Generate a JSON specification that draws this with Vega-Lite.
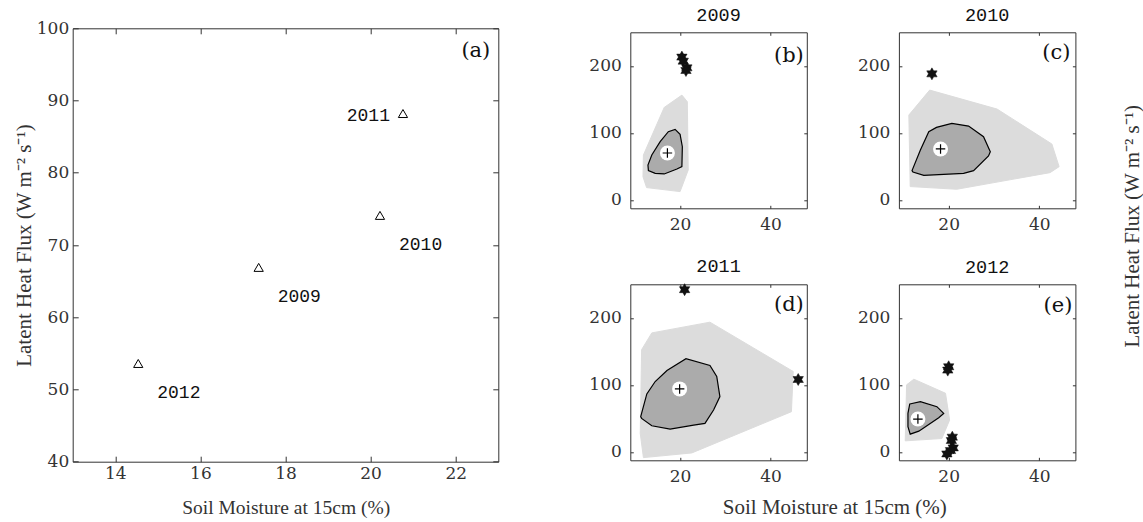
{
  "$schema": "https://vega.github.io/schema/vega-lite/v6.json",
  "autosize": {"type": "none"},
  "padding": {"left": 72.7, "top": 32.3, "right": 1070.3, "bottom": 489.7},
  "background": "white",
  "config": {
    "view": {"stroke": "#333333", "strokeWidth": 1},
    "axis": {
      "grid": false, "domain": false, "labelFlush": false,
      "domainColor": "#333333", "domainWidth": 1,
      "tickColor": "#333333", "labelColor": "#333333",
      "labelFont": "DejaVu Serif", "labelFontSize": 17,
      "titleFont": "Liberation Serif", "titleFontWeight": "normal",
      "titleColor": "#333333", "titleFontSize": 19.5
    },
    "title": {"font": "Liberation Mono", "fontSize": 18.5, "fontWeight": "normal", "color": "#111111", "baseline": "alphabetic", "offset": 7.5}
  },
  "datasets": {
    "years": [
      {"year": "2009", "sm": 17.37, "le": 66.9},
      {"year": "2010", "sm": 20.22, "le": 74.1},
      {"year": "2011", "sm": 20.76, "le": 88.2},
      {"year": "2012", "sm": 14.54, "le": 53.6}
    ],
    "hull": [
      {"year": 2009, "part": "fence", "i": 0, "x": 16.5, "y": 138},
      {"year": 2009, "part": "fence", "i": 1, "x": 20.4, "y": 156.3},
      {"year": 2009, "part": "fence", "i": 2, "x": 21.6, "y": 146.4},
      {"year": 2009, "part": "fence", "i": 3, "x": 21.8, "y": 44.7},
      {"year": 2009, "part": "fence", "i": 4, "x": 20, "y": 12.4},
      {"year": 2009, "part": "fence", "i": 5, "x": 12.6, "y": 18.4},
      {"year": 2009, "part": "fence", "i": 6, "x": 11.8, "y": 34.7},
      {"year": 2009, "part": "fence", "i": 7, "x": 11.9, "y": 67},
      {"year": 2009, "part": "bag", "i": 0, "x": 18.9, "y": 105.2},
      {"year": 2009, "part": "bag", "i": 1, "x": 20, "y": 97.8},
      {"year": 2009, "part": "bag", "i": 2, "x": 20.5, "y": 79.4},
      {"year": 2009, "part": "bag", "i": 3, "x": 20.4, "y": 49.6},
      {"year": 2009, "part": "bag", "i": 4, "x": 19.3, "y": 46.2},
      {"year": 2009, "part": "bag", "i": 5, "x": 16.5, "y": 38.7},
      {"year": 2009, "part": "bag", "i": 6, "x": 14.5, "y": 39.7},
      {"year": 2009, "part": "bag", "i": 7, "x": 13, "y": 43.7},
      {"year": 2009, "part": "bag", "i": 8, "x": 12.9, "y": 52.1},
      {"year": 2009, "part": "bag", "i": 9, "x": 13.75, "y": 67},
      {"year": 2009, "part": "bag", "i": 10, "x": 15.6, "y": 86.8},
      {"year": 2009, "part": "bag", "i": 11, "x": 17.4, "y": 101.7},
      {"year": 2010, "part": "fence", "i": 0, "x": 11.2, "y": 126.6},
      {"year": 2010, "part": "fence", "i": 1, "x": 15.8, "y": 163.8},
      {"year": 2010, "part": "fence", "i": 2, "x": 30.7, "y": 135.5},
      {"year": 2010, "part": "fence", "i": 3, "x": 42.8, "y": 83.4},
      {"year": 2010, "part": "fence", "i": 4, "x": 44.4, "y": 49.6},
      {"year": 2010, "part": "fence", "i": 5, "x": 42.4, "y": 40.7},
      {"year": 2010, "part": "fence", "i": 6, "x": 21.8, "y": 15.9},
      {"year": 2010, "part": "fence", "i": 7, "x": 11.5, "y": 19.9},
      {"year": 2010, "part": "bag", "i": 0, "x": 11.9, "y": 43.7},
      {"year": 2010, "part": "bag", "i": 1, "x": 13.75, "y": 74.4},
      {"year": 2010, "part": "bag", "i": 2, "x": 15.6, "y": 101.7},
      {"year": 2010, "part": "bag", "i": 3, "x": 17.3, "y": 108.2},
      {"year": 2010, "part": "bag", "i": 4, "x": 20.7, "y": 114.1},
      {"year": 2010, "part": "bag", "i": 5, "x": 24.4, "y": 110.2},
      {"year": 2010, "part": "bag", "i": 6, "x": 27.7, "y": 94.3},
      {"year": 2010, "part": "bag", "i": 7, "x": 29.2, "y": 72},
      {"year": 2010, "part": "bag", "i": 8, "x": 28.8, "y": 65.5},
      {"year": 2010, "part": "bag", "i": 9, "x": 25.5, "y": 43.7},
      {"year": 2010, "part": "bag", "i": 10, "x": 23.3, "y": 39.7},
      {"year": 2010, "part": "bag", "i": 11, "x": 14.5, "y": 36.7},
      {"year": 2010, "part": "bag", "i": 12, "x": 12.1, "y": 41.7},
      {"year": 2011, "part": "fence", "i": 0, "x": 13.75, "y": 177.5},
      {"year": 2011, "part": "fence", "i": 1, "x": 26.6, "y": 193.5},
      {"year": 2011, "part": "fence", "i": 2, "x": 45, "y": 120},
      {"year": 2011, "part": "fence", "i": 3, "x": 44.6, "y": 60},
      {"year": 2011, "part": "fence", "i": 4, "x": 22.6, "y": -1.5},
      {"year": 2011, "part": "fence", "i": 5, "x": 11.9, "y": -8.5},
      {"year": 2011, "part": "fence", "i": 6, "x": 11.2, "y": 27.5},
      {"year": 2011, "part": "fence", "i": 7, "x": 11.5, "y": 152.5},
      {"year": 2011, "part": "bag", "i": 0, "x": 11.3, "y": 52.5},
      {"year": 2011, "part": "bag", "i": 1, "x": 12.65, "y": 86.5},
      {"year": 2011, "part": "bag", "i": 2, "x": 14.5, "y": 105},
      {"year": 2011, "part": "bag", "i": 3, "x": 17.1, "y": 121.5},
      {"year": 2011, "part": "bag", "i": 4, "x": 21.3, "y": 139},
      {"year": 2011, "part": "bag", "i": 5, "x": 26.6, "y": 129},
      {"year": 2011, "part": "bag", "i": 6, "x": 28.1, "y": 112.5},
      {"year": 2011, "part": "bag", "i": 7, "x": 28.8, "y": 82.5},
      {"year": 2011, "part": "bag", "i": 8, "x": 27.4, "y": 62.5},
      {"year": 2011, "part": "bag", "i": 9, "x": 25.5, "y": 42.5},
      {"year": 2011, "part": "bag", "i": 10, "x": 23, "y": 40},
      {"year": 2011, "part": "bag", "i": 11, "x": 17.8, "y": 34},
      {"year": 2011, "part": "bag", "i": 12, "x": 13.75, "y": 39},
      {"year": 2011, "part": "bag", "i": 13, "x": 11.5, "y": 50},
      {"year": 2012, "part": "fence", "i": 0, "x": 10.7, "y": 100},
      {"year": 2012, "part": "fence", "i": 1, "x": 12.3, "y": 108.5},
      {"year": 2012, "part": "fence", "i": 2, "x": 19.3, "y": 87.5},
      {"year": 2012, "part": "fence", "i": 3, "x": 20.2, "y": 47.5},
      {"year": 2012, "part": "fence", "i": 4, "x": 18.5, "y": 20},
      {"year": 2012, "part": "fence", "i": 5, "x": 10.4, "y": 16.5},
      {"year": 2012, "part": "bag", "i": 0, "x": 11.4, "y": 71.5},
      {"year": 2012, "part": "bag", "i": 1, "x": 13.75, "y": 75},
      {"year": 2012, "part": "bag", "i": 2, "x": 17.4, "y": 67.5},
      {"year": 2012, "part": "bag", "i": 3, "x": 18.9, "y": 57.5},
      {"year": 2012, "part": "bag", "i": 4, "x": 17.8, "y": 51},
      {"year": 2012, "part": "bag", "i": 5, "x": 13.4, "y": 31},
      {"year": 2012, "part": "bag", "i": 6, "x": 11.5, "y": 26.5},
      {"year": 2012, "part": "bag", "i": 7, "x": 11, "y": 37.5},
      {"year": 2012, "part": "bag", "i": 8, "x": 11, "y": 57.5}
    ],
    "med": [
      {"year": 2009, "x": 17.2, "y": 70},
      {"year": 2010, "x": 18.2, "y": 76},
      {"year": 2011, "x": 19.9, "y": 94},
      {"year": 2012, "x": 13.2, "y": 49}
    ],
    "out": [
      {"year": 2009, "x": 20.4, "y": 213},
      {"year": 2009, "x": 20.7, "y": 207},
      {"year": 2009, "x": 21.5, "y": 197},
      {"year": 2009, "x": 21.3, "y": 193},
      {"year": 2010, "x": 16.3, "y": 188},
      {"year": 2011, "x": 21, "y": 242},
      {"year": 2011, "x": 46.1, "y": 108},
      {"year": 2012, "x": 20, "y": 127},
      {"year": 2012, "x": 19.8, "y": 122},
      {"year": 2012, "x": 20.8, "y": 22},
      {"year": 2012, "x": 20.6, "y": 17},
      {"year": 2012, "x": 21, "y": 6},
      {"year": 2012, "x": 20.4, "y": 2},
      {"year": 2012, "x": 19.6, "y": -3}
    ]
  },
  "bounds": "flush",
  "align": "each",
  "columns": 3,
  "spacing": {"row": 76, "column": 91.6},
  "concat": [
    {
      "width": 425.6, "height": 176,
      "view": {"stroke": null},
      "resolve": {"axis": {"x": "independent", "y": "independent"}},
      "layer": [
        {
          "data": {"name": "years"},
          "mark": {"type": "point", "shape": "triangle-up", "size": 85, "filled": false, "stroke": "black", "strokeWidth": 1, "opacity": 1},
          "encoding": {
            "x": {"field": "sm", "type": "quantitative", "scale": {"domain": [13, 23], "nice": false, "zero": false},
                  "axis": {"values": [14, 16, 18, 20, 22], "domain": true, "offset": 253.4, "tickSize": -5.5, "labelPadding": 9.5,
                           "title": "Soil Moisture at 15cm (%)", "titleX": 213, "titleY": 51.6, "titleBaseline": "alphabetic"}},
            "y": {"field": "le", "type": "quantitative", "scale": {"domain": [40, 100], "range": [429.4, -4], "nice": false, "zero": false},
                  "axis": {"values": [40, 50, 60, 70, 80, 90, 100], "domain": true, "tickSize": -5.5, "labelPadding": 9.5,
                           "title": "Latent Heat Flux (W m⁻² s⁻¹)", "titleX": -42, "titleY": 212.7, "titleBaseline": "alphabetic", "titleFontSize": 21}}
          }
        },
        {
          "data": {"name": "years"},
          "transform": [{"filter": "datum.year != '2011'"}],
          "mark": {"type": "text", "align": "left", "baseline": "middle", "dx": 19, "dy": 30, "font": "Liberation Mono", "fontSize": 18, "color": "#111111"},
          "encoding": {
            "x": {"field": "sm", "type": "quantitative", "axis": {"orient": "top", "offset": 4, "domain": true, "values": [14, 16, 18, 20, 22], "tickSize": -5.5, "labels": false, "title": null}},
            "y": {"field": "le", "type": "quantitative", "axis": {"orient": "right", "domain": true, "values": [40, 50, 60, 70, 80, 90, 100], "tickSize": -5.5, "labels": false, "title": null}},
            "text": {"field": "year", "type": "nominal"}
          }
        },
        {
          "data": {"name": "years"},
          "transform": [{"filter": "datum.year == '2011'"}],
          "mark": {"type": "text", "align": "right", "baseline": "middle", "dx": -13, "dy": 2, "font": "Liberation Mono", "fontSize": 18, "color": "#111111"},
          "encoding": {
            "x": {"field": "sm", "type": "quantitative", "axis": null},
            "y": {"field": "le", "type": "quantitative", "axis": null},
            "text": {"field": "year", "type": "nominal"}
          }
        },
        {
          "data": {"values": [{"tag": "(a)"}]},
          "mark": {"type": "text", "align": "right", "baseline": "alphabetic", "dx": -8, "dy": 29, "font": "DejaVu Serif", "fontSize": 21, "color": "#111111"},
          "encoding": {
            "x": {"datum": 23, "type": "quantitative", "axis": null},
            "y": {"datum": 100, "type": "quantitative", "axis": null},
            "text": {"field": "tag", "type": "nominal"}
          }
        }
      ]
    },
    {
      "width": 176.5, "height": 176,
      "title": {"text": "2009"},
      "resolve": {"axis": {"x": "independent", "y": "independent"}},
      "layer": [
        {
          "data": {"name": "hull"},
          "transform": [{"filter": "datum.year == 2009 && datum.part == 'fence'"}],
          "mark": {"type": "line", "interpolate": "linear-closed", "fill": "#dcdcdc", "stroke": "#dcdcdc", "strokeWidth": 1},
          "encoding": {
            "x": {"field": "x", "type": "quantitative", "scale": {"domain": [9, 48], "nice": false, "zero": false},
                  "axis": {"values": [20, 40], "tickSize": -3, "labelPadding": 11.3, "title": null}},
            "y": {"field": "y", "type": "quantitative", "scale": {"domain": [-12.5, 250], "nice": false, "zero": false},
                  "axis": {"values": [0, 100, 200], "tickSize": -3, "labelPadding": 12, "title": null}},
            "order": {"field": "i", "type": "quantitative"}
          }
        },
        {
          "data": {"name": "hull"},
          "transform": [{"filter": "datum.year == 2009 && datum.part == 'bag'"}],
          "mark": {"type": "line", "interpolate": "linear-closed", "fill": "#ababab", "stroke": "black", "strokeWidth": 1.2},
          "encoding": {
            "x": {"field": "x", "type": "quantitative", "axis": null},
            "y": {"field": "y", "type": "quantitative", "axis": null},
            "order": {"field": "i", "type": "quantitative"}
          }
        },
        {
          "data": {"name": "med"},
          "transform": [{"filter": "datum.year == 2009"}],
          "mark": {"type": "point", "shape": "circle", "size": 225, "filled": true, "fill": "white", "stroke": null, "opacity": 1},
          "encoding": {
            "x": {"field": "x", "type": "quantitative", "axis": null},
            "y": {"field": "y", "type": "quantitative", "axis": null}
          }
        },
        {
          "data": {"name": "med"},
          "transform": [{"filter": "datum.year == 2009"}],
          "mark": {"type": "point", "shape": "M-1,0L1,0M0,-1L0,1", "size": 90, "filled": false, "stroke": "black", "strokeWidth": 1.2, "opacity": 1},
          "encoding": {
            "x": {"field": "x", "type": "quantitative", "axis": null},
            "y": {"field": "y", "type": "quantitative", "axis": null}
          }
        },
        {
          "data": {"name": "out"},
          "transform": [{"filter": "datum.year == 2009"}],
          "mark": {"type": "point", "shape": "M0,-1L0.2887,-0.5L0.866,-0.5L0.5774,0L0.866,0.5L0.2887,0.5L0,1L-0.2887,0.5L-0.866,0.5L-0.5774,0L-0.866,-0.5L-0.2887,-0.5Z", "size": 144, "filled": true, "fill": "#111111", "stroke": "#111111", "strokeWidth": 0.5, "opacity": 1},
          "encoding": {
            "x": {"field": "x", "type": "quantitative", "axis": {"orient": "top", "values": [20, 40], "tickSize": -3, "labels": false, "title": null}},
            "y": {"field": "y", "type": "quantitative", "axis": {"orient": "right", "values": [0, 100, 200], "tickSize": -3, "labels": false, "title": null}}
          }
        },
        {
          "data": {"values": [{"tag": "(b)"}]},
          "mark": {"type": "text", "align": "right", "baseline": "alphabetic", "dx": -3, "dy": 30, "font": "DejaVu Serif", "fontSize": 21, "color": "#111111"},
          "encoding": {
            "x": {"datum": 48, "type": "quantitative", "axis": null},
            "y": {"datum": 250, "type": "quantitative", "axis": null},
            "text": {"field": "tag", "type": "nominal"}
          }
        }
      ]
    },
    {
      "width": 176.5, "height": 176,
      "title": {"text": "2010"},
      "resolve": {"axis": {"x": "independent", "y": "independent"}},
      "layer": [
        {
          "data": {"name": "hull"},
          "transform": [{"filter": "datum.year == 2010 && datum.part == 'fence'"}],
          "mark": {"type": "line", "interpolate": "linear-closed", "fill": "#dcdcdc", "stroke": "#dcdcdc", "strokeWidth": 1},
          "encoding": {
            "x": {"field": "x", "type": "quantitative", "scale": {"domain": [9, 48], "nice": false, "zero": false},
                  "axis": {"values": [20, 40], "tickSize": -3, "labelPadding": 11.3, "title": null}},
            "y": {"field": "y", "type": "quantitative", "scale": {"domain": [-12.5, 250], "nice": false, "zero": false},
                  "axis": {"values": [0, 100, 200], "tickSize": -3, "labelPadding": 12,
                           "title": "Latent Heat Flux (W m⁻² s⁻¹)", "titleX": 240, "titleY": 193.5, "titleBaseline": "alphabetic", "titleFontSize": 21}},
            "order": {"field": "i", "type": "quantitative"}
          }
        },
        {
          "data": {"name": "hull"},
          "transform": [{"filter": "datum.year == 2010 && datum.part == 'bag'"}],
          "mark": {"type": "line", "interpolate": "linear-closed", "fill": "#ababab", "stroke": "black", "strokeWidth": 1.2},
          "encoding": {
            "x": {"field": "x", "type": "quantitative", "axis": null},
            "y": {"field": "y", "type": "quantitative", "axis": null},
            "order": {"field": "i", "type": "quantitative"}
          }
        },
        {
          "data": {"name": "med"},
          "transform": [{"filter": "datum.year == 2010"}],
          "mark": {"type": "point", "shape": "circle", "size": 225, "filled": true, "fill": "white", "stroke": null, "opacity": 1},
          "encoding": {
            "x": {"field": "x", "type": "quantitative", "axis": null},
            "y": {"field": "y", "type": "quantitative", "axis": null}
          }
        },
        {
          "data": {"name": "med"},
          "transform": [{"filter": "datum.year == 2010"}],
          "mark": {"type": "point", "shape": "M-1,0L1,0M0,-1L0,1", "size": 90, "filled": false, "stroke": "black", "strokeWidth": 1.2, "opacity": 1},
          "encoding": {
            "x": {"field": "x", "type": "quantitative", "axis": null},
            "y": {"field": "y", "type": "quantitative", "axis": null}
          }
        },
        {
          "data": {"name": "out"},
          "transform": [{"filter": "datum.year == 2010"}],
          "mark": {"type": "point", "shape": "M0,-1L0.2887,-0.5L0.866,-0.5L0.5774,0L0.866,0.5L0.2887,0.5L0,1L-0.2887,0.5L-0.866,0.5L-0.5774,0L-0.866,-0.5L-0.2887,-0.5Z", "size": 144, "filled": true, "fill": "#111111", "stroke": "#111111", "strokeWidth": 0.5, "opacity": 1},
          "encoding": {
            "x": {"field": "x", "type": "quantitative", "axis": {"orient": "top", "values": [20, 40], "tickSize": -3, "labels": false, "title": null}},
            "y": {"field": "y", "type": "quantitative", "axis": {"orient": "right", "values": [0, 100, 200], "tickSize": -3, "labels": false, "title": null}}
          }
        },
        {
          "data": {"values": [{"tag": "(c)"}]},
          "mark": {"type": "text", "align": "right", "baseline": "alphabetic", "dx": -5, "dy": 27, "font": "DejaVu Serif", "fontSize": 21, "color": "#111111"},
          "encoding": {
            "x": {"datum": 48, "type": "quantitative", "axis": null},
            "y": {"datum": 250, "type": "quantitative", "axis": null},
            "text": {"field": "tag", "type": "nominal"}
          }
        }
      ]
    },
    {
      "width": 465.7, "height": 176,
      "view": {"stroke": null},
      "data": {"values": []},
      "mark": "point"
    },
    {
      "width": 176.5, "height": 176,
      "title": {"text": "2011"},
      "resolve": {"axis": {"x": "independent", "y": "independent"}},
      "layer": [
        {
          "data": {"name": "hull"},
          "transform": [{"filter": "datum.year == 2011 && datum.part == 'fence'"}],
          "mark": {"type": "line", "interpolate": "linear-closed", "fill": "#dcdcdc", "stroke": "#dcdcdc", "strokeWidth": 1},
          "encoding": {
            "x": {"field": "x", "type": "quantitative", "scale": {"domain": [9, 48], "nice": false, "zero": false},
                  "axis": {"values": [20, 40], "tickSize": -3, "labelPadding": 11.3,
                           "title": "Soil Moisture at 15cm (%)", "titleX": 204, "titleY": 53.3, "titleBaseline": "alphabetic", "titleFontSize": 21}},
            "y": {"field": "y", "type": "quantitative", "scale": {"domain": [-12.5, 250], "nice": false, "zero": false},
                  "axis": {"values": [0, 100, 200], "tickSize": -3, "labelPadding": 12, "title": null}},
            "order": {"field": "i", "type": "quantitative"}
          }
        },
        {
          "data": {"name": "hull"},
          "transform": [{"filter": "datum.year == 2011 && datum.part == 'bag'"}],
          "mark": {"type": "line", "interpolate": "linear-closed", "fill": "#ababab", "stroke": "black", "strokeWidth": 1.2},
          "encoding": {
            "x": {"field": "x", "type": "quantitative", "axis": null},
            "y": {"field": "y", "type": "quantitative", "axis": null},
            "order": {"field": "i", "type": "quantitative"}
          }
        },
        {
          "data": {"name": "med"},
          "transform": [{"filter": "datum.year == 2011"}],
          "mark": {"type": "point", "shape": "circle", "size": 225, "filled": true, "fill": "white", "stroke": null, "opacity": 1},
          "encoding": {
            "x": {"field": "x", "type": "quantitative", "axis": null},
            "y": {"field": "y", "type": "quantitative", "axis": null}
          }
        },
        {
          "data": {"name": "med"},
          "transform": [{"filter": "datum.year == 2011"}],
          "mark": {"type": "point", "shape": "M-1,0L1,0M0,-1L0,1", "size": 90, "filled": false, "stroke": "black", "strokeWidth": 1.2, "opacity": 1},
          "encoding": {
            "x": {"field": "x", "type": "quantitative", "axis": null},
            "y": {"field": "y", "type": "quantitative", "axis": null}
          }
        },
        {
          "data": {"name": "out"},
          "transform": [{"filter": "datum.year == 2011"}],
          "mark": {"type": "point", "shape": "M0,-1L0.2887,-0.5L0.866,-0.5L0.5774,0L0.866,0.5L0.2887,0.5L0,1L-0.2887,0.5L-0.866,0.5L-0.5774,0L-0.866,-0.5L-0.2887,-0.5Z", "size": 144, "filled": true, "fill": "#111111", "stroke": "#111111", "strokeWidth": 0.5, "opacity": 1},
          "encoding": {
            "x": {"field": "x", "type": "quantitative", "axis": {"orient": "top", "values": [20, 40], "tickSize": -3, "labels": false, "title": null}},
            "y": {"field": "y", "type": "quantitative", "axis": {"orient": "right", "values": [0, 100, 200], "tickSize": -3, "labels": false, "title": null}}
          }
        },
        {
          "data": {"values": [{"tag": "(d)"}]},
          "mark": {"type": "text", "align": "right", "baseline": "alphabetic", "dx": -3, "dy": 27, "font": "DejaVu Serif", "fontSize": 21, "color": "#111111"},
          "encoding": {
            "x": {"datum": 48, "type": "quantitative", "axis": null},
            "y": {"datum": 250, "type": "quantitative", "axis": null},
            "text": {"field": "tag", "type": "nominal"}
          }
        }
      ]
    },
    {
      "width": 176.5, "height": 176,
      "title": {"text": "2012"},
      "resolve": {"axis": {"x": "independent", "y": "independent"}},
      "layer": [
        {
          "data": {"name": "hull"},
          "transform": [{"filter": "datum.year == 2012 && datum.part == 'fence'"}],
          "mark": {"type": "line", "interpolate": "linear-closed", "fill": "#dcdcdc", "stroke": "#dcdcdc", "strokeWidth": 1},
          "encoding": {
            "x": {"field": "x", "type": "quantitative", "scale": {"domain": [9, 48], "nice": false, "zero": false},
                  "axis": {"values": [20, 40], "tickSize": -3, "labelPadding": 11.3, "title": null}},
            "y": {"field": "y", "type": "quantitative", "scale": {"domain": [-12.5, 250], "nice": false, "zero": false},
                  "axis": {"values": [0, 100, 200], "tickSize": -3, "labelPadding": 12, "title": null}},
            "order": {"field": "i", "type": "quantitative"}
          }
        },
        {
          "data": {"name": "hull"},
          "transform": [{"filter": "datum.year == 2012 && datum.part == 'bag'"}],
          "mark": {"type": "line", "interpolate": "linear-closed", "fill": "#ababab", "stroke": "black", "strokeWidth": 1.2},
          "encoding": {
            "x": {"field": "x", "type": "quantitative", "axis": null},
            "y": {"field": "y", "type": "quantitative", "axis": null},
            "order": {"field": "i", "type": "quantitative"}
          }
        },
        {
          "data": {"name": "med"},
          "transform": [{"filter": "datum.year == 2012"}],
          "mark": {"type": "point", "shape": "circle", "size": 225, "filled": true, "fill": "white", "stroke": null, "opacity": 1},
          "encoding": {
            "x": {"field": "x", "type": "quantitative", "axis": null},
            "y": {"field": "y", "type": "quantitative", "axis": null}
          }
        },
        {
          "data": {"name": "med"},
          "transform": [{"filter": "datum.year == 2012"}],
          "mark": {"type": "point", "shape": "M-1,0L1,0M0,-1L0,1", "size": 90, "filled": false, "stroke": "black", "strokeWidth": 1.2, "opacity": 1},
          "encoding": {
            "x": {"field": "x", "type": "quantitative", "axis": null},
            "y": {"field": "y", "type": "quantitative", "axis": null}
          }
        },
        {
          "data": {"name": "out"},
          "transform": [{"filter": "datum.year == 2012"}],
          "mark": {"type": "point", "shape": "M0,-1L0.2887,-0.5L0.866,-0.5L0.5774,0L0.866,0.5L0.2887,0.5L0,1L-0.2887,0.5L-0.866,0.5L-0.5774,0L-0.866,-0.5L-0.2887,-0.5Z", "size": 144, "filled": true, "fill": "#111111", "stroke": "#111111", "strokeWidth": 0.5, "opacity": 1},
          "encoding": {
            "x": {"field": "x", "type": "quantitative", "axis": {"orient": "top", "values": [20, 40], "tickSize": -3, "labels": false, "title": null}},
            "y": {"field": "y", "type": "quantitative", "axis": {"orient": "right", "values": [0, 100, 200], "tickSize": -3, "labels": false, "title": null}}
          }
        },
        {
          "data": {"values": [{"tag": "(e)"}]},
          "mark": {"type": "text", "align": "right", "baseline": "alphabetic", "dx": -3, "dy": 28, "font": "DejaVu Serif", "fontSize": 21, "color": "#111111"},
          "encoding": {
            "x": {"datum": 48, "type": "quantitative", "axis": null},
            "y": {"datum": 250, "type": "quantitative", "axis": null},
            "text": {"field": "tag", "type": "nominal"}
          }
        }
      ]
    }
  ]
}
